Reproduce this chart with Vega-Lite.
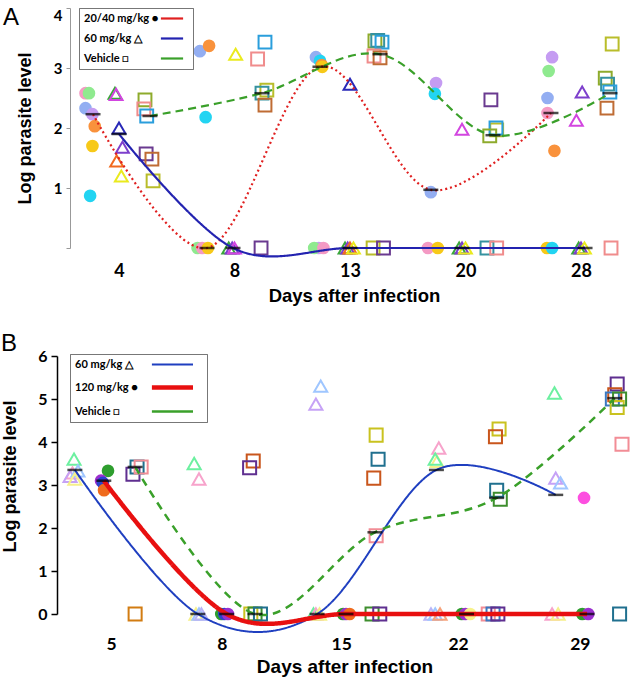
{
"$schema": "https://vega.github.io/schema/vega-lite/v6.json",
"padding": {"left": 1, "top": 5, "right": 0, "bottom": 0},
"config": {"view": {"stroke": null}, "axis": {"labelColor": "black", "titleColor": "black", "grid": false}},
"spacing": 27,
"resolve": {"scale": {"color": "independent", "fill": "independent", "stroke": "independent", "shape": "independent", "strokeDash": "independent", "strokeWidth": "independent"}, "legend": {"color": "independent", "strokeDash": "independent", "strokeWidth": "independent"}},
"datasets": {
"aPts": [
{"pos":0.71,"value":2.58,"group":"20/40 mg/kg","mouse":"c2"},
{"pos":0.74,"value":2.58,"group":"20/40 mg/kg","mouse":"c1"},
{"pos":0.71,"value":2.33,"group":"20/40 mg/kg","mouse":"c3"},
{"pos":0.77,"value":2.23,"group":"20/40 mg/kg","mouse":"c4"},
{"pos":0.79,"value":2.03,"group":"20/40 mg/kg","mouse":"c5"},
{"pos":0.77,"value":1.70,"group":"20/40 mg/kg","mouse":"c6"},
{"pos":0.75,"value":0.87,"group":"20/40 mg/kg","mouse":"c7"},
{"pos":0.965,"value":2.58,"group":"60 mg/kg","mouse":"t1"},
{"pos":0.975,"value":2.56,"group":"60 mg/kg","mouse":"t2"},
{"pos":1.0,"value":2.0,"group":"60 mg/kg","mouse":"t3"},
{"pos":1.03,"value":1.68,"group":"60 mg/kg","mouse":"t4"},
{"pos":0.98,"value":1.45,"group":"60 mg/kg","mouse":"t5"},
{"pos":1.02,"value":1.20,"group":"60 mg/kg","mouse":"t6"},
{"pos":1.225,"value":2.47,"group":"Vehicle","mouse":"s1"},
{"pos":1.215,"value":2.32,"group":"Vehicle","mouse":"s2"},
{"pos":1.24,"value":2.2,"group":"Vehicle","mouse":"s3"},
{"pos":1.235,"value":1.57,"group":"Vehicle","mouse":"s4"},
{"pos":1.285,"value":1.48,"group":"Vehicle","mouse":"s5"},
{"pos":1.295,"value":1.12,"group":"Vehicle","mouse":"s6"},
{"pos":1.70,"value":3.28,"group":"20/40 mg/kg","mouse":"c3"},
{"pos":1.78,"value":3.37,"group":"20/40 mg/kg","mouse":"c5"},
{"pos":1.75,"value":2.18,"group":"20/40 mg/kg","mouse":"c7"},
{"pos":1.68,"value":0,"group":"20/40 mg/kg","mouse":"c1"},
{"pos":1.72,"value":0,"group":"20/40 mg/kg","mouse":"c2"},
{"pos":1.77,"value":0,"group":"20/40 mg/kg","mouse":"c6"},
{"pos":2.01,"value":3.23,"group":"60 mg/kg","mouse":"t6"},
{"pos":1.95,"value":0,"group":"60 mg/kg","mouse":"t1"},
{"pos":1.98,"value":0,"group":"60 mg/kg","mouse":"t4"},
{"pos":2.0,"value":0,"group":"60 mg/kg","mouse":"t2"},
{"pos":2.264,"value":3.43,"group":"Vehicle","mouse":"s3"},
{"pos":2.20,"value":3.15,"group":"Vehicle","mouse":"s2"},
{"pos":2.28,"value":2.63,"group":"Vehicle","mouse":"s6"},
{"pos":2.238,"value":2.58,"group":"Vehicle","mouse":"s7"},
{"pos":2.264,"value":2.38,"group":"Vehicle","mouse":"s5"},
{"pos":2.23,"value":0,"group":"Vehicle","mouse":"s4"},
{"pos":2.705,"value":3.18,"group":"20/40 mg/kg","mouse":"c3"},
{"pos":2.74,"value":3.12,"group":"20/40 mg/kg","mouse":"c7"},
{"pos":2.755,"value":3.05,"group":"20/40 mg/kg","mouse":"c5"},
{"pos":2.76,"value":3.02,"group":"20/40 mg/kg","mouse":"c6"},
{"pos":2.73,"value":0,"group":"20/40 mg/kg","mouse":"c4"},
{"pos":2.69,"value":0,"group":"20/40 mg/kg","mouse":"c1"},
{"pos":2.77,"value":0,"group":"20/40 mg/kg","mouse":"c2"},
{"pos":3.0,"value":2.73,"group":"60 mg/kg","mouse":"t3"},
{"pos":2.957,"value":0,"group":"60 mg/kg","mouse":"t1"},
{"pos":2.98,"value":0,"group":"60 mg/kg","mouse":"t4"},
{"pos":3.0,"value":0,"group":"60 mg/kg","mouse":"t5"},
{"pos":3.03,"value":0,"group":"60 mg/kg","mouse":"t6"},
{"pos":3.216,"value":3.45,"group":"Vehicle","mouse":"s1"},
{"pos":3.24,"value":3.46,"group":"Vehicle","mouse":"s7"},
{"pos":3.277,"value":3.43,"group":"Vehicle","mouse":"s3"},
{"pos":3.208,"value":3.2,"group":"Vehicle","mouse":"s2"},
{"pos":3.26,"value":3.17,"group":"Vehicle","mouse":"s5"},
{"pos":3.2,"value":0,"group":"Vehicle","mouse":"s6"},
{"pos":3.29,"value":0,"group":"Vehicle","mouse":"s4"},
{"pos":3.745,"value":2.75,"group":"20/40 mg/kg","mouse":"c4"},
{"pos":3.735,"value":2.57,"group":"20/40 mg/kg","mouse":"c7"},
{"pos":3.70,"value":0.93,"group":"20/40 mg/kg","mouse":"c3"},
{"pos":3.675,"value":0,"group":"20/40 mg/kg","mouse":"c2"},
{"pos":3.76,"value":0,"group":"20/40 mg/kg","mouse":"c6"},
{"pos":3.97,"value":1.98,"group":"60 mg/kg","mouse":"t2"},
{"pos":3.945,"value":0,"group":"60 mg/kg","mouse":"t1"},
{"pos":3.97,"value":0,"group":"60 mg/kg","mouse":"t4"},
{"pos":4.0,"value":0,"group":"60 mg/kg","mouse":"t6"},
{"pos":4.22,"value":2.47,"group":"Vehicle","mouse":"s4"},
{"pos":4.27,"value":1.97,"group":"Vehicle","mouse":"s6"},
{"pos":4.264,"value":2.0,"group":"Vehicle","mouse":"s3"},
{"pos":4.21,"value":1.87,"group":"Vehicle","mouse":"s1"},
{"pos":4.186,"value":0,"group":"Vehicle","mouse":"s7"},
{"pos":4.27,"value":0,"group":"Vehicle","mouse":"s2"},
{"pos":4.75,"value":3.18,"group":"20/40 mg/kg","mouse":"c4"},
{"pos":4.72,"value":2.95,"group":"20/40 mg/kg","mouse":"c1"},
{"pos":4.71,"value":2.5,"group":"20/40 mg/kg","mouse":"c3"},
{"pos":4.71,"value":2.25,"group":"20/40 mg/kg","mouse":"c2"},
{"pos":4.77,"value":1.62,"group":"20/40 mg/kg","mouse":"c5"},
{"pos":4.705,"value":0,"group":"20/40 mg/kg","mouse":"c6"},
{"pos":4.75,"value":0,"group":"20/40 mg/kg","mouse":"c7"},
{"pos":5.01,"value":2.6,"group":"60 mg/kg","mouse":"t4"},
{"pos":4.96,"value":2.13,"group":"60 mg/kg","mouse":"t2"},
{"pos":4.98,"value":0,"group":"60 mg/kg","mouse":"t1"},
{"pos":5.0,"value":0,"group":"60 mg/kg","mouse":"t4"},
{"pos":5.03,"value":0,"group":"60 mg/kg","mouse":"t6"},
{"pos":5.27,"value":3.4,"group":"Vehicle","mouse":"s6"},
{"pos":5.21,"value":2.83,"group":"Vehicle","mouse":"s1"},
{"pos":5.23,"value":2.73,"group":"Vehicle","mouse":"s7"},
{"pos":5.25,"value":2.6,"group":"Vehicle","mouse":"s3"},
{"pos":5.225,"value":2.33,"group":"Vehicle","mouse":"s5"},
{"pos":5.26,"value":0,"group":"Vehicle","mouse":"s2"}
],
"aMeans": [
{"pos":0.775,"value":2.23,"group":"20/40 mg/kg"},
{"pos":1.762,"value":0,"group":"20/40 mg/kg"},
{"pos":2.74,"value":3.02,"group":"20/40 mg/kg"},
{"pos":3.70,"value":0.97,"group":"20/40 mg/kg"},
{"pos":4.74,"value":2.25,"group":"20/40 mg/kg"},
{"pos":1.0,"value":1.9,"group":"60 mg/kg"},
{"pos":1.987,"value":0,"group":"60 mg/kg"},
{"pos":3.0,"value":0,"group":"60 mg/kg"},
{"pos":3.97,"value":0,"group":"60 mg/kg"},
{"pos":5.035,"value":0,"group":"60 mg/kg"},
{"pos":1.268,"value":2.2,"group":"Vehicle"},
{"pos":2.238,"value":2.58,"group":"Vehicle"},
{"pos":3.26,"value":3.23,"group":"Vehicle"},
{"pos":4.238,"value":1.88,"group":"Vehicle"},
{"pos":5.251,"value":2.58,"group":"Vehicle"}
],
"bPts": [
{"pos":0.743,"value":3.6,"group":"60 mg/kg","mouse":"t1"},
{"pos":0.73,"value":3.28,"group":"60 mg/kg","mouse":"t5"},
{"pos":0.71,"value":3.2,"group":"60 mg/kg","mouse":"t2"},
{"pos":0.776,"value":3.33,"group":"60 mg/kg","mouse":"t3"},
{"pos":0.75,"value":3.14,"group":"60 mg/kg","mouse":"t4"},
{"pos":1.025,"value":3.33,"group":"120 mg/kg","mouse":"c1"},
{"pos":0.967,"value":3.1,"group":"120 mg/kg","mouse":"c3"},
{"pos":0.983,"value":3.05,"group":"120 mg/kg","mouse":"c2"},
{"pos":0.992,"value":2.88,"group":"120 mg/kg","mouse":"c4"},
{"pos":1.232,"value":3.25,"group":"Vehicle","mouse":"s1"},
{"pos":1.266,"value":3.42,"group":"Vehicle","mouse":"s2"},
{"pos":1.30,"value":3.42,"group":"Vehicle","mouse":"s3"},
{"pos":1.25,"value":0,"group":"Vehicle","mouse":"s7"},
{"pos":1.74,"value":3.5,"group":"60 mg/kg","mouse":"t1"},
{"pos":1.78,"value":3.14,"group":"60 mg/kg","mouse":"t5"},
{"pos":1.755,"value":0,"group":"60 mg/kg","mouse":"t4"},
{"pos":1.78,"value":0,"group":"60 mg/kg","mouse":"t3"},
{"pos":1.80,"value":0,"group":"60 mg/kg","mouse":"t7"},
{"pos":1.965,"value":0,"group":"120 mg/kg","mouse":"c1"},
{"pos":1.99,"value":0,"group":"120 mg/kg","mouse":"c2"},
{"pos":2.02,"value":0,"group":"120 mg/kg","mouse":"c3"},
{"pos":2.23,"value":3.56,"group":"Vehicle","mouse":"s4"},
{"pos":2.20,"value":3.4,"group":"Vehicle","mouse":"s1"},
{"pos":2.21,"value":0,"group":"Vehicle","mouse":"s5"},
{"pos":2.245,"value":0,"group":"Vehicle","mouse":"s6"},
{"pos":2.29,"value":0,"group":"Vehicle","mouse":"s2"},
{"pos":2.79,"value":5.3,"group":"60 mg/kg","mouse":"t3"},
{"pos":2.75,"value":4.88,"group":"60 mg/kg","mouse":"t2"},
{"pos":2.73,"value":0,"group":"60 mg/kg","mouse":"t1"},
{"pos":2.75,"value":0,"group":"60 mg/kg","mouse":"t5"},
{"pos":2.78,"value":0,"group":"60 mg/kg","mouse":"t4"},
{"pos":2.975,"value":0,"group":"120 mg/kg","mouse":"c1"},
{"pos":3.0,"value":0,"group":"120 mg/kg","mouse":"c3"},
{"pos":3.03,"value":0,"group":"120 mg/kg","mouse":"c4"},
{"pos":3.25,"value":4.16,"group":"Vehicle","mouse":"s5"},
{"pos":3.266,"value":3.6,"group":"Vehicle","mouse":"s2"},
{"pos":3.23,"value":3.16,"group":"Vehicle","mouse":"s4"},
{"pos":3.25,"value":1.82,"group":"Vehicle","mouse":"s3"},
{"pos":3.216,"value":0,"group":"Vehicle","mouse":"s6"},
{"pos":3.28,"value":0,"group":"Vehicle","mouse":"s1"},
{"pos":3.77,"value":3.86,"group":"60 mg/kg","mouse":"t5"},
{"pos":3.755,"value":3.55,"group":"60 mg/kg","mouse":"t4"},
{"pos":3.74,"value":3.6,"group":"60 mg/kg","mouse":"t1"},
{"pos":3.705,"value":0,"group":"60 mg/kg","mouse":"t7"},
{"pos":3.74,"value":0,"group":"60 mg/kg","mouse":"t3"},
{"pos":3.78,"value":0,"group":"60 mg/kg","mouse":"t6"},
{"pos":3.96,"value":0,"group":"120 mg/kg","mouse":"c1"},
{"pos":3.99,"value":0,"group":"120 mg/kg","mouse":"c3"},
{"pos":4.03,"value":0,"group":"120 mg/kg","mouse":"c6"},
{"pos":4.27,"value":4.3,"group":"Vehicle","mouse":"s5"},
{"pos":4.24,"value":4.12,"group":"Vehicle","mouse":"s4"},
{"pos":4.25,"value":2.88,"group":"Vehicle","mouse":"s2"},
{"pos":4.28,"value":2.67,"group":"Vehicle","mouse":"s6"},
{"pos":4.18,"value":0,"group":"Vehicle","mouse":"s3"},
{"pos":4.22,"value":0,"group":"Vehicle","mouse":"s8"},
{"pos":4.26,"value":0,"group":"Vehicle","mouse":"s1"},
{"pos":4.73,"value":5.14,"group":"60 mg/kg","mouse":"t1"},
{"pos":4.74,"value":3.16,"group":"60 mg/kg","mouse":"t2"},
{"pos":4.78,"value":3.05,"group":"60 mg/kg","mouse":"t3"},
{"pos":4.71,"value":0,"group":"60 mg/kg","mouse":"t5"},
{"pos":4.76,"value":0,"group":"60 mg/kg","mouse":"t4"},
{"pos":4.975,"value":2.7,"group":"120 mg/kg","mouse":"c5"},
{"pos":4.96,"value":0,"group":"120 mg/kg","mouse":"c1"},
{"pos":5.01,"value":0,"group":"120 mg/kg","mouse":"c3"},
{"pos":5.25,"value":5.35,"group":"Vehicle","mouse":"s1"},
{"pos":5.23,"value":5.1,"group":"Vehicle","mouse":"s4"},
{"pos":5.21,"value":5.0,"group":"Vehicle","mouse":"s8"},
{"pos":5.25,"value":4.8,"group":"Vehicle","mouse":"s5"},
{"pos":5.27,"value":5.0,"group":"Vehicle","mouse":"s6"},
{"pos":5.29,"value":3.95,"group":"Vehicle","mouse":"s3"},
{"pos":5.27,"value":0,"group":"Vehicle","mouse":"s2"}
],
"bMeans": [
{"pos":0.75,"value":3.35,"group":"60 mg/kg"},
{"pos":1.77,"value":0,"group":"60 mg/kg"},
{"pos":2.76,"value":0,"group":"60 mg/kg"},
{"pos":3.75,"value":3.35,"group":"60 mg/kg"},
{"pos":4.74,"value":2.77,"group":"60 mg/kg"},
{"pos":0.99,"value":3.1,"group":"120 mg/kg"},
{"pos":2.01,"value":0,"group":"120 mg/kg"},
{"pos":3.0,"value":0,"group":"120 mg/kg"},
{"pos":4.0,"value":0,"group":"120 mg/kg"},
{"pos":5.0,"value":0,"group":"120 mg/kg"},
{"pos":1.25,"value":3.42,"group":"Vehicle"},
{"pos":2.245,"value":0,"group":"Vehicle"},
{"pos":3.24,"value":1.9,"group":"Vehicle"},
{"pos":4.25,"value":2.7,"group":"Vehicle"},
{"pos":5.23,"value":5.02,"group":"Vehicle"}
]
},
"vconcat": [
{
"width": 568, "height": 240,
"title": {"text": "A", "anchor": "start", "frame": "group", "font": "Liberation Sans", "fontSize": 24, "fontWeight": "normal", "color": "black", "dx": -54, "dy": 22, "offset": 0},
"resolve": {"scale": {"color": "independent", "fill": "independent", "stroke": "independent"}},
"layer": [
{
"data": {"name": "aPts"},
"transform": [{"filter": "datum.group === '20/40 mg/kg'"}],
"mark": {"type": "point", "filled": true, "shape": "circle", "size": 160, "opacity": 1},
"encoding": {
"x": {"field": "pos", "type": "quantitative", "scale": {"domain": [0.4632, 5.381], "nice": false, "zero": false},
 "axis": {"values": [1, 2, 3, 4, 5], "labelExpr": "['','4','8','13','20','28'][round(datum.value)]", "domain": false, "ticks": false, "labelFont": "Lato", "labelFontSize": 18, "labelFontWeight": "bold", "labelPadding": 14, "title": "Days after infection", "titleFont": "Liberation Sans", "titleFontSize": 18.5, "titleFontWeight": "bold", "titlePadding": 6, "titleX": 297}},
"y": {"field": "value", "type": "quantitative", "scale": {"domain": [0, 4], "nice": false},
 "axis": {"values": [0, 1, 2, 3, 4], "format": "d", "labelExpr": "datum.value == 0 ? '' : datum.label", "labelFlush": true, "domainColor": "#999", "domainWidth": 1, "tickColor": "#999", "tickSize": 4, "labelFont": "Lato", "labelFontSize": 15, "labelFontWeight": "bold", "labelPadding": 4, "title": "Log parasite level", "titleFont": "Liberation Sans", "titleFontSize": 18, "titleFontWeight": "bold", "titlePadding": 19, "offset": -13}},
"fill": {"field": "mouse", "type": "nominal", "scale": {"domain": ["c1","c2","c3","c4","c5","c6","c7"], "range": ["#8fea8f","#f49ac4","#93aef2","#c59cf2","#f9923c","#f7c919","#22d4f2"]}, "legend": null}
}
},
{
"data": {"name": "aPts"},
"transform": [{"filter": "datum.group !== '20/40 mg/kg'"}],
"mark": {"type": "point", "filled": false, "size": 165, "strokeWidth": 2, "opacity": 1},
"encoding": {
"x": {"field": "pos", "type": "quantitative"},
"y": {"field": "value", "type": "quantitative"},
"stroke": {"field": "mouse", "type": "nominal", "scale": {"domain": ["t1","t2","t3","t4","t5","t6","s1","s2","s3","s4","s5","s6","s7"], "range": ["#3aa83a","#d245e0","#2929b8","#7d3fcc","#f26a1e","#eaea1e","#8eab2c","#f08c8c","#2a9edc","#6a3a90","#bf6c34","#b9bd2a","#35929f"]}, "legend": null},
"shape": {"field": "group", "type": "nominal", "scale": {"domain": ["60 mg/kg", "Vehicle"], "range": ["triangle-up", "square"]}, "legend": null}
}
},
{
"data": {"name": "aMeans"},
"mark": {"type": "line", "interpolate": "cardinal", "strokeWidth": 2.2},
"encoding": {
"x": {"field": "pos", "type": "quantitative"},
"y": {"field": "value", "type": "quantitative"},
"color": {"field": "group", "type": "nominal", "scale": {"domain": ["20/40 mg/kg", "60 mg/kg", "Vehicle"], "range": ["#e02020", "#2323b0", "#3aa02a"]},
 "legend": {"orient": "none", "legendX": 22, "legendY": 0, "title": null, "direction": "vertical", "strokeColor": "#777", "fillColor": "white", "padding": 5, "symbolType": "M23.8,0H31.2", "symbolSize": 36, "symbolStrokeWidth": 2.2, "labelAlign": "left", "labelOffset": -11, "labelFont": "Lato", "labelFontSize": 11, "labelFontWeight": "bold", "labelColor": "black", "rowPadding": 8,
 "labelExpr": "datum.label == '20/40 mg/kg' ? '20/40 mg/kg ●' : datum.label == '60 mg/kg' ? '60 mg/kg  △' : 'Vehicle  □'"}},
"strokeDash": {"field": "group", "type": "nominal", "scale": {"domain": ["20/40 mg/kg", "60 mg/kg", "Vehicle"], "range": [[2, 3], [1, 0], [8, 5]]},
 "legend": {"orient": "none", "legendX": 22, "legendY": 0, "title": null, "direction": "vertical", "strokeColor": "#777", "fillColor": "white", "padding": 5, "symbolType": "M23.8,0H31.2", "symbolSize": 36, "symbolStrokeWidth": 2.2, "labelAlign": "left", "labelOffset": -11, "labelFont": "Lato", "labelFontSize": 11, "labelFontWeight": "bold", "labelColor": "black", "rowPadding": 8,
 "labelExpr": "datum.label == '20/40 mg/kg' ? '20/40 mg/kg ●' : datum.label == '60 mg/kg' ? '60 mg/kg  △' : 'Vehicle  □'"}}
}
},
{
"data": {"name": "aMeans"},
"mark": {"type": "tick", "orient": "horizontal", "thickness": 2.5, "color": "black"},
"encoding": {
"x": {"field": "pos", "type": "quantitative"},
"y": {"field": "value", "type": "quantitative"},
"size": {"value": 15}
}
}
]
},
{
"width": 575, "height": 258,
"title": {"text": "B", "anchor": "start", "frame": "group", "font": "Liberation Sans", "fontSize": 24, "fontWeight": "normal", "color": "black", "dx": -56, "dy": 8, "offset": 0},
"resolve": {"scale": {"color": "independent", "fill": "independent", "stroke": "independent"}},
"layer": [
{
"data": {"name": "bPts"},
"transform": [{"filter": "datum.group === '120 mg/kg'"}],
"mark": {"type": "point", "filled": true, "shape": "circle", "size": 160, "opacity": 1},
"encoding": {
"x": {"field": "pos", "type": "quantitative", "scale": {"domain": [0.6017, 5.373], "nice": false, "zero": false},
 "axis": {"values": [1.05, 1.97, 2.96, 3.93, 4.94], "labelExpr": "['','5','8','15','22','29'][round(datum.value)]", "domain": false, "ticks": false, "labelFont": "Lato", "labelFontSize": 17.5, "labelFontWeight": "bold", "labelPadding": 21, "title": "Days after infection", "titleFont": "Liberation Sans", "titleFontSize": 19, "titleFontWeight": "bold", "titlePadding": 5}},
"y": {"field": "value", "type": "quantitative", "scale": {"domain": [0, 6], "nice": false},
 "axis": {"values": [0, 1, 2, 3, 4, 5, 6], "format": "d", "domainColor": "black", "domainWidth": 1.5, "tickColor": "black", "tickWidth": 1.5, "tickSize": 6, "labelFont": "Lato", "labelFontSize": 16, "labelFontWeight": "bold", "labelPadding": 4, "title": "Log parasite level", "titleFont": "Liberation Sans", "titleFontSize": 18, "titleFontWeight": "bold", "titlePadding": 18, "titleY": 120}},
"fill": {"field": "mouse", "type": "nominal", "scale": {"domain": ["c1","c2","c3","c4","c5","c6"], "range": ["#2e9e2e","#2a44cc","#9b30cf","#ef6b1d","#fd4fe0","#f7f28c"]}, "legend": null}
}
},
{
"data": {"name": "bPts"},
"transform": [{"filter": "datum.group !== '120 mg/kg'"}],
"mark": {"type": "point", "filled": false, "size": 170, "strokeWidth": 2, "opacity": 1},
"encoding": {
"x": {"field": "pos", "type": "quantitative"},
"y": {"field": "value", "type": "quantitative"},
"stroke": {"field": "mouse", "type": "nominal", "scale": {"domain": ["t1","t2","t3","t4","t5","t6","t7","s1","s2","s3","s4","s5","s6","s7","s8"], "range": ["#6cf0a0","#c6a2f6","#9fc6ff","#f6f08a","#f7a3cb","#f7a27a","#b9b4f7","#5f2f90","#20708f","#f28d96","#c9561c","#c9c21f","#3e8e2e","#d27c12","#3a78c0"]}, "legend": null},
"shape": {"field": "group", "type": "nominal", "scale": {"domain": ["60 mg/kg", "Vehicle"], "range": ["triangle-up", "square"]}, "legend": null}
}
},
{
"data": {"name": "bMeans"},
"mark": {"type": "line", "interpolate": "cardinal"},
"encoding": {
"x": {"field": "pos", "type": "quantitative"},
"y": {"field": "value", "type": "quantitative"},
"color": {"field": "group", "type": "nominal", "scale": {"domain": ["60 mg/kg", "120 mg/kg", "Vehicle"], "range": ["#1f3fc0", "#e81010", "#3aa02a"]},
 "legend": {"orient": "none", "legendX": 13, "legendY": -2, "title": null, "direction": "vertical", "strokeColor": "#777", "fillColor": "white", "padding": 5, "symbolType": "M23.8,0H37.5", "symbolSize": 36, "labelAlign": "left", "labelOffset": -11, "labelFont": "Lato", "labelFontSize": 11, "labelFontWeight": "bold", "labelColor": "black", "rowPadding": 8,
 "labelExpr": "datum.label == '60 mg/kg' ? '60 mg/kg  △' : datum.label == '120 mg/kg' ? '120 mg/kg ●' : 'Vehicle  □'",
 "encode": {"symbols": {"update": {"strokeWidth": {"signal": "datum.value == '120 mg/kg' ? 4.5 : datum.value == 'Vehicle' ? 2.5 : 2"}}}}}},
"strokeDash": {"field": "group", "type": "nominal", "scale": {"domain": ["60 mg/kg", "120 mg/kg", "Vehicle"], "range": [[1, 0], [1, 0], [8, 6]]},
 "legend": {"orient": "none", "legendX": 13, "legendY": -2, "title": null, "direction": "vertical", "strokeColor": "#777", "fillColor": "white", "padding": 5, "symbolType": "M23.8,0H37.5", "symbolSize": 36, "labelAlign": "left", "labelOffset": -11, "labelFont": "Lato", "labelFontSize": 11, "labelFontWeight": "bold", "labelColor": "black", "rowPadding": 8,
 "labelExpr": "datum.label == '60 mg/kg' ? '60 mg/kg  △' : datum.label == '120 mg/kg' ? '120 mg/kg ●' : 'Vehicle  □'",
 "encode": {"symbols": {"update": {"strokeWidth": {"signal": "datum.value == '120 mg/kg' ? 4.5 : datum.value == 'Vehicle' ? 2.5 : 2"}}}}}},
"strokeWidth": {"field": "group", "type": "nominal", "scale": {"type": "ordinal", "domain": ["60 mg/kg", "120 mg/kg", "Vehicle"], "range": [2, 4.5, 2.5]}, "legend": null}
}
},
{
"data": {"name": "bMeans"},
"mark": {"type": "tick", "orient": "horizontal", "thickness": 2.5, "color": "black"},
"encoding": {
"x": {"field": "pos", "type": "quantitative"},
"y": {"field": "value", "type": "quantitative"},
"size": {"value": 15}
}
}
]
}
]
}
